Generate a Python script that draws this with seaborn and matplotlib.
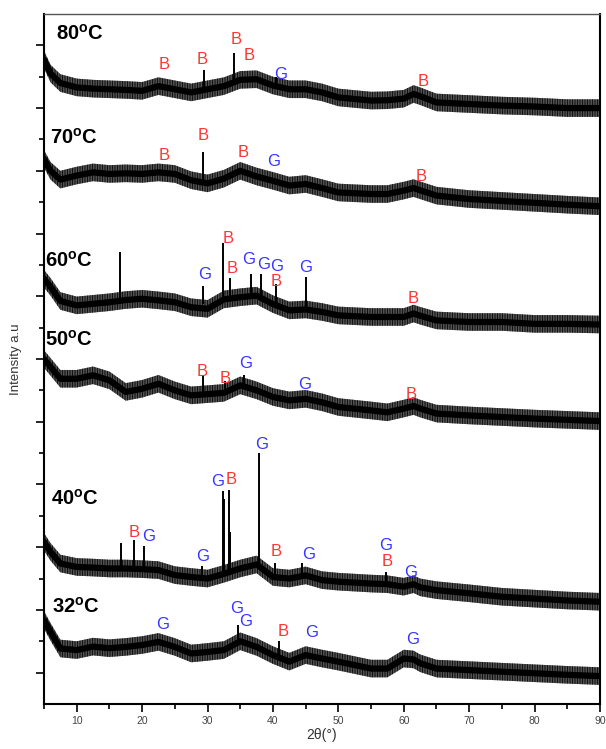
import numpy as np
import pandas as pd
import matplotlib
matplotlib.use('Agg')
import matplotlib.pyplot as plt
import seaborn as sns

# 2theta positions where the baseline of each pattern was read
theta = [5, 6, 7.5, 10, 12.5, 15, 17.5, 20, 22.5, 25, 27.5, 30, 32.5, 35, 37.5, 40,
         42.5, 45, 47.5, 50, 55, 57.5, 60, 61.5, 62.5, 65, 70, 75, 80, 85, 90]

# stacked baselines (offset intensity, a.u.)
base_80 = [20.55, 20.1, 19.8, 19.66, 19.62, 19.6, 19.58, 19.55, 19.7, 19.6, 19.5, 19.6, 19.7, 19.9, 19.92, 19.72,
           19.6, 19.6, 19.5, 19.34, 19.24, 19.25, 19.3, 19.45, 19.38, 19.18, 19.13, 19.08, 19.05, 19.0, 19.0]
base_70 = [17.38, 17.0, 16.72, 16.85, 16.95, 16.9, 16.92, 16.9, 16.95, 16.9, 16.7, 16.6, 16.75, 17.0, 16.82, 16.68,
           16.53, 16.58, 16.45, 16.31, 16.26, 16.26, 16.37, 16.45, 16.38, 16.21, 16.1, 16.04, 15.98, 15.92, 15.87]
base_60 = [13.56, 13.3, 12.85, 12.71, 12.76, 12.81, 12.88, 12.92, 12.87, 12.81, 12.65, 12.6, 12.9, 12.97, 13.02, 12.75,
           12.55, 12.58, 12.5, 12.39, 12.34, 12.34, 12.34, 12.45, 12.38, 12.23, 12.18, 12.18, 12.12, 12.12, 12.1]
base_50 = [11.0, 10.75, 10.37, 10.37, 10.48, 10.32, 9.95, 10.05, 10.21, 10.0, 9.84, 9.88, 9.92, 10.16, 10.0, 9.79,
           9.68, 9.73, 9.62, 9.47, 9.36, 9.3, 9.42, 9.5, 9.42, 9.26, 9.2, 9.15, 9.1, 9.06, 9.02]
base_40 = [5.17, 4.85, 4.48, 4.37, 4.35, 4.32, 4.32, 4.3, 4.27, 4.11, 4.05, 4.0, 4.15, 4.32, 4.45, 4.05,
           4.0, 4.1, 3.95, 3.9, 3.84, 3.82, 3.74, 3.82, 3.72, 3.63, 3.53, 3.42, 3.36, 3.3, 3.26]
base_32 = [2.68, 2.3, 1.77, 1.72, 1.83, 1.78, 1.82, 1.88, 1.98, 1.82, 1.61, 1.66, 1.72, 2.0, 1.82, 1.56,
           1.35, 1.56, 1.45, 1.35, 1.13, 1.13, 1.45, 1.42, 1.3, 1.13, 1.08, 1.03, 0.98, 0.93, 0.89]

samples = ['80', '70', '60', '50', '40', '32']
sample_labels = ['80$^{\\mathregular{o}}$C', '70$^{\\mathregular{o}}$C', '60$^{\\mathregular{o}}$C',
                 '50$^{\\mathregular{o}}$C', '40$^{\\mathregular{o}}$C', '32$^{\\mathregular{o}}$C']
label_x = [6.9, 5.9, 5.1, 5.1, 6.0, 6.2]
label_y = [21.37, 18.06, 14.14, 11.62, 6.53, 3.09]

# sharp reflections: (2theta, foot, top)
peaks_80 = [(29.5, 19.6, 20.2), (34.0, 19.75, 20.75), (40.5, 19.7, 20.0)]
peaks_70 = [(29.3, 16.7, 17.61)]
peaks_60 = [(16.6, 12.85, 14.4), (29.3, 12.75, 13.34), (32.4, 12.9, 14.69), (33.4, 12.95, 13.59),
            (36.7, 13.0, 13.72), (38.2, 12.9, 13.7), (40.5, 12.8, 13.4), (45.0, 12.6, 13.6)]
peaks_50 = [(29.3, 9.9, 10.48), (32.7, 9.95, 10.3), (35.6, 10.1, 10.48)]
peaks_40 = [(16.7, 4.3, 5.12), (18.8, 4.3, 5.22), (20.3, 4.25, 5.03), (29.2, 4.05, 4.39),
            (32.3, 4.1, 6.79), (32.55, 4.1, 6.55), (33.3, 4.15, 6.83), (33.5, 4.15, 5.5),
            (37.9, 4.4, 8.0), (40.3, 4.1, 4.48), (44.5, 4.1, 4.5), (57.3, 3.8, 4.21)]
peaks_32 = [(34.7, 1.85, 2.52), (41.0, 1.5, 2.0)]

# phase markers: (letter, 2theta, y)
marks = [('B', 23.3, 20.4), ('B', 29.2, 20.56), ('B', 34.4, 21.18), ('B', 36.4, 20.67), ('G', 41.2, 20.06), ('B', 62.9, 19.85),
         ('B', 23.3, 17.48), ('B', 29.4, 18.12), ('B', 35.4, 17.58), ('G', 40.1, 17.29), ('B', 62.7, 16.82),
         ('B', 33.1, 14.83), ('G', 29.5, 13.69), ('B', 33.8, 13.87), ('G', 36.3, 14.16), ('G', 38.6, 14.0),
         ('G', 40.5, 13.95), ('B', 40.5, 13.48), ('G', 45.0, 13.93), ('B', 61.5, 12.92),
         ('B', 29.2, 10.61), ('B', 32.7, 10.37), ('G', 35.9, 10.85), ('G', 44.8, 10.19), ('B', 61.2, 9.87),
         ('B', 18.8, 5.46), ('G', 21.0, 5.33), ('G', 29.2, 4.69), ('G', 31.6, 7.08), ('B', 33.6, 7.16),
         ('G', 38.2, 8.28), ('B', 40.5, 4.85), ('G', 45.4, 4.78), ('G', 57.3, 5.06), ('B', 57.4, 4.53), ('G', 61.1, 4.18),
         ('G', 23.1, 2.54), ('G', 34.4, 3.03), ('G', 35.9, 2.64), ('B', 41.6, 2.3), ('G', 45.9, 2.28), ('G', 61.3, 2.07)]
mark_colors = {'B': '#ff3535', 'G': '#3535ff'}
noise = 0.28

sns.set_style('ticks')
plt.rcParams['font.family'] = ['Liberation Sans', 'DejaVu Sans']
plt.rcParams['hatch.linewidth'] = 0.7

bases = [base_80, base_70, base_60, base_50, base_40, base_32]
peaks = [peaks_80, peaks_70, peaks_60, peaks_50, peaks_40, peaks_32]

df = pd.DataFrame({
    'theta': theta * len(samples),
    'intensity': sum(bases, []),
    'sample': [s for s in samples for _ in theta],
})

fig = plt.figure(figsize=(6.06, 7.49), dpi=100)
ax = fig.add_axes([44 / 606, 1 - 704 / 749, 556 / 606, 690 / 749])

# noisy band around each baseline
for b in bases:
    b = np.array(b)
    ax.fill_between(theta, b - noise, b + noise, facecolor='#707070', edgecolor='#111111',
                    hatch='||||||||||', linewidth=0)

sns.lineplot(data=df, x='theta', y='intensity', hue='sample', palette=['black'] * len(samples),
             estimator=None, linewidth=4.5, legend=False, ax=ax)

for pk in peaks:
    ax.vlines([p[0] for p in pk], [p[1] for p in pk], [p[2] for p in pk], color='black', lw=1.4)

for lab, x, y in zip(sample_labels, label_x, label_y):
    ax.text(x, y, lab, fontsize=14.5, fontweight='bold', color='black', ha='left', va='center')

for letter, x, y in marks:
    ax.text(x, y, letter, fontsize=12, color=mark_colors[letter], ha='center', va='center')

ax.set_xlim(5, 90)
ax.set_ylim(0, 22)
ax.set_xticks(np.arange(10, 91, 10))
ax.set_xticks(np.arange(5, 90, 10), minor=True)
ax.set_yticks(np.arange(1, 22, 2))
ax.set_yticks(np.arange(2, 21, 2), minor=True)
ax.set_yticklabels([])
ax.tick_params(axis='both', which='major', length=6, width=1.2, direction='out', color='black')
ax.tick_params(axis='both', which='minor', length=3.5, width=1.2, direction='out', color='black')
ax.tick_params(axis='x', labelsize=7.5, labelcolor='#444444', pad=3)
for side in ['left', 'right', 'bottom']:
    ax.spines[side].set_linewidth(1.5)
    ax.spines[side].set_color('black')
ax.spines['top'].set_linewidth(1.0)
ax.spines['top'].set_color('#555555')

ax.set_xlabel('2θ(°)', fontsize=10, color='#333333', labelpad=1)
ax.set_ylabel('Intensity a.u', fontsize=9.5, color='#333333', labelpad=6)

fig.savefig('out.png', dpi=100)
